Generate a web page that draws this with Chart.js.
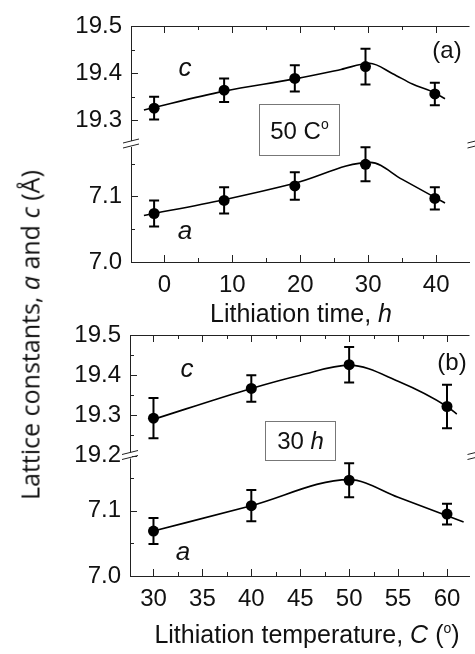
<!DOCTYPE html>
<html>
<head>
<meta charset="utf-8">
<script src="https://cdn.jsdelivr.net/npm/chart.js@4/dist/chart.umd.min.js"></script>
<style>
body { margin: 0; background: #fff; }
#wrap { position: relative; width: 475px; height: 654px; overflow: hidden; font-family: "Liberation Sans", Arial, sans-serif; color: #111; }
canvas { position: absolute; left: 0; }
.lbl { position: absolute; white-space: nowrap; transform: translate(-50%, -50%); line-height: 1; }
.box { position: absolute; border: 1px solid #777; display: flex; align-items: center; justify-content: center; font-size: 24px; box-sizing: border-box; }
.ytitle { position: absolute; left: 30px; top: 335px; transform: translate(-50%, -50%) rotate(-90deg); white-space: nowrap; font-family: "Open Sans", sans-serif; font-size: 25px; line-height: 1; }
sup { font-size: 14px; vertical-align: 10px; }
</style>
</head>
<body>
<div id="wrap">
  <canvas id="chartA" width="475" height="310" style="top:0"></canvas>
  <canvas id="chartB" width="475" height="344" style="top:310px"></canvas>

  <div class="ytitle">Lattice constants, <i>a</i> and <i>c</i> (Å)</div>

  <div class="lbl" style="left:185px;top:67px;font-size:26px"><i>c</i></div>
  <div class="lbl" style="left:185px;top:230px;font-size:26px"><i>a</i></div>
  <div class="lbl" style="left:447px;top:50px;font-size:24px">(a)</div>
  <div class="box" style="left:259px;top:104px;width:81px;height:52px"><span>50 C<sup>o</sup></span></div>
  <div class="lbl" style="left:301px;top:313px;font-size:25px">Lithiation time, <i>h</i></div>

  <div class="lbl" style="left:187px;top:368px;font-size:26px"><i>c</i></div>
  <div class="lbl" style="left:183px;top:551px;font-size:26px"><i>a</i></div>
  <div class="lbl" style="left:452px;top:362px;font-size:24px">(b)</div>
  <div class="box" style="left:265px;top:421px;width:71px;height:40px"><span>30&nbsp;<i>h</i></span></div>
  <div class="lbl" style="left:307px;top:634px;font-size:25px">Lithiation temperature, <i>C</i> (<sup>o</sup>)</div>
</div>

<script>
// (a) lithiation time series
var timeA = [-1.5, 8.8, 19.2, 29.6, 39.8];
var cTime = [19.326, 19.364, 19.389, 19.414, 19.356];
var cTimeErr = [0.024, 0.025, 0.028, 0.038, 0.024];
var aTime = [7.074, 7.094, 7.116, 7.149, 7.097];
var aTimeErr = [0.020, 0.020, 0.021, 0.026, 0.017];
var cTimeFitX = [-3, 8.8, 19.2, 26, 30.2, 33.6, 36.5, 39.4, 41.3];
var cTimeFitY = [19.322, 19.362, 19.388, 19.408, 19.421, 19.399, 19.377, 19.361, 19.346];
var aTimeFitX = [-3, 8.8, 19.2, 30.3, 35, 41.3];
var aTimeFitY = [7.071, 7.095, 7.12, 7.152, 7.126, 7.09];

// (b) lithiation temperature series
var tempB = [30, 40, 50, 60];
var cTemp = [19.293, 19.367, 19.426, 19.322];
var cTempErr = [0.050, 0.033, 0.044, 0.054];
var aTemp = [7.069, 7.108, 7.147, 7.095];
var aTempErr = [0.020, 0.024, 0.026, 0.016];
var cTempFitX = [30, 40, 45, 50, 55, 60, 61];
var cTempFitY = [19.29, 19.367, 19.4, 19.425, 19.385, 19.322, 19.303];
var aTempFitX = [30, 40, 50, 55, 61.7];
var aTempFitY = [7.069, 7.108, 7.148, 7.121, 7.083];

// ticks
var timeTicks = [0, 10, 20, 30, 40];
var timeMinor = [5, 15, 25, 35];
var tempTicks = [30, 35, 40, 45, 50, 55, 60];
var tempMinor = [32.5, 37.5, 42.5, 47.5, 52.5, 57.5];
var cTicksA = [19.3, 19.4, 19.5];
var cTicksB = [19.2, 19.3, 19.4, 19.5];
var cMinorA = [19.35, 19.45];
var cMinorB = [19.25, 19.35, 19.45];
var aTicks = [7.0, 7.1];
var aMinor = [7.05, 7.15];

function pts(xs, ys) {
    return xs.map(function (x, i) { return { x: x, y: ys[i] }; });
}

var axisPlugin = {
    id: 'axisDeco',
    afterDatasetsDraw: function (chart, args, opts) {
        var ctx = chart.ctx;
        var area = chart.chartArea;
        var xs = chart.scales.x, yc = chart.scales.yc, ya = chart.scales.ya;
        ctx.save();
        ctx.strokeStyle = '#222';
        ctx.lineWidth = 1;
        // top frame line
        ctx.beginPath();
        ctx.moveTo(area.left, area.top + 0.5);
        ctx.lineTo(area.right, area.top + 0.5);
        ctx.stroke();
        // inward ticks on x
        function xTick(v, len) {
            var px = Math.round(xs.getPixelForValue(v)) + 0.5;
            ctx.beginPath();
            ctx.moveTo(px, area.bottom);
            ctx.lineTo(px, area.bottom - len);
            ctx.moveTo(px, area.top);
            ctx.lineTo(px, area.top + len);
            ctx.stroke();
        }
        opts.xMajor.forEach(function (v) { xTick(v, 7); });
        opts.xMinor.forEach(function (v) { xTick(v, 4); });
        // inward ticks on y
        function yTick(scale, v, len) {
            var py = Math.round(scale.getPixelForValue(v)) + 0.5;
            ctx.beginPath();
            ctx.moveTo(area.left, py);
            ctx.lineTo(area.left + len, py);
            ctx.stroke();
        }
        opts.cMajor.forEach(function (v) { yTick(yc, v, 7); });
        opts.cMinor.forEach(function (v) { yTick(yc, v, 4); });
        aTicks.forEach(function (v) { yTick(ya, v, 7); });
        aMinor.forEach(function (v) { yTick(ya, v, 4); });

        // axis break marks (the right one is mostly cut off by the canvas edge)
        var by = yc.bottom;
        [area.left, area.right + 6].forEach(function (bx) {
            ctx.fillStyle = '#fff';
            ctx.fillRect(bx - 1, by - 3, 3, 6);
            ctx.beginPath();
            ctx.moveTo(bx - 8, by - 1);
            ctx.lineTo(bx + 8, by - 5);
            ctx.moveTo(bx - 8, by + 4);
            ctx.lineTo(bx + 8, by);
            ctx.stroke();
        });

        // error bars
        ctx.lineWidth = 2;
        ctx.strokeStyle = '#000';
        opts.bars.forEach(function (b) {
            var scale = chart.scales[b.axis];
            b.x.forEach(function (xv, i) {
                var px = xs.getPixelForValue(xv);
                var t = scale.getPixelForValue(b.y[i] + b.err[i]);
                var d = scale.getPixelForValue(b.y[i] - b.err[i]);
                ctx.beginPath();
                ctx.moveTo(px, t);
                ctx.lineTo(px, d);
                ctx.moveTo(px - 5, t);
                ctx.lineTo(px + 5, t);
                ctx.moveTo(px - 5, d);
                ctx.lineTo(px + 5, d);
                ctx.stroke();
            });
        });
        ctx.restore();
    }
};

function makePanel(id, p) {
    var tickFont = { family: 'Liberation Sans', size: 24 };
    var fixTicks = function (list) {
        return function (scale) {
            scale.ticks = list.map(function (v) { return { value: v }; });
        };
    };
    var fmt = function (v) { return v.toFixed(1); };
    return new Chart(id, {
        type: 'scatter',
        data: {
            datasets: [{
                data: pts(p.x, p.c), yAxisID: 'yc',
                pointRadius: 5.5, pointHoverRadius: 5.5, backgroundColor: '#000', borderWidth: 0
            }, {
                data: pts(p.x, p.a), yAxisID: 'ya',
                pointRadius: 5.5, pointHoverRadius: 5.5, backgroundColor: '#000', borderWidth: 0
            }, {
                data: pts(p.cFitX, p.cFitY), yAxisID: 'yc', showLine: true,
                pointRadius: 0, borderColor: '#000', borderWidth: 1.6, cubicInterpolationMode: 'monotone'
            }, {
                data: pts(p.aFitX, p.aFitY), yAxisID: 'ya', showLine: true,
                pointRadius: 0, borderColor: '#000', borderWidth: 1.6, cubicInterpolationMode: 'monotone'
            }]
        },
        options: {
            responsive: false,
            animation: false,
            events: [],
            layout: { padding: { top: p.top, left: 0, right: 0, bottom: 0 } },
            plugins: {
                legend: { display: false },
                tooltip: { enabled: false },
                axisDeco: { xMajor: p.xTicks, xMinor: p.xMinor, cMajor: p.cTicks, cMinor: p.cMinor, bars: [
                    { axis: 'yc', x: p.x, y: p.c, err: p.cErr },
                    { axis: 'ya', x: p.x, y: p.a, err: p.aErr }
                ] }
            },
            scales: {
                x: {
                    type: 'linear', position: 'bottom', min: p.xMin, max: p.xMax,
                    grid: { display: false, drawTicks: false },
                    border: { color: '#222', width: 1 },
                    ticks: { font: tickFont, color: '#111', padding: 9, autoSkip: false, maxRotation: 0 },
                    afterBuildTicks: fixTicks(p.xTicks),
                    afterFit: function (s) { s.height = p.xHeight; }
                },
                ya: {
                    type: 'linear', position: 'left', stack: 'lat', stackWeight: 1,
                    min: 7.0, max: p.aMax,
                    grid: { display: false, drawTicks: false },
                    border: { color: '#222', width: 1 },
                    ticks: { font: tickFont, color: '#111', padding: 9, autoSkip: false, callback: fmt },
                    afterBuildTicks: fixTicks(aTicks),
                    afterFit: function (s) { s.width = p.left; }
                },
                yc: {
                    type: 'linear', position: 'left', stack: 'lat', stackWeight: 1,
                    min: p.cMin, max: 19.5,
                    grid: { display: false, drawTicks: false },
                    border: { color: '#222', width: 1 },
                    ticks: { font: tickFont, color: '#111', padding: 9, autoSkip: false, callback: fmt },
                    afterBuildTicks: fixTicks(p.cTicks),
                    afterFit: function (s) { s.width = p.left; }
                }
            }
        },
        plugins: [axisPlugin]
    });
}

makePanel('chartA', {
    x: timeA, c: cTime, cErr: cTimeErr, a: aTime, aErr: aTimeErr,
    cFitX: cTimeFitX, cFitY: cTimeFitY, aFitX: aTimeFitX, aFitY: aTimeFitY,
    xTicks: timeTicks, xMinor: timeMinor, cTicks: cTicksA, cMinor: cMinorA,
    xMin: -4.9, xMax: 44.9, cMin: 19.25, aMax: 7.18,
    top: 26, left: 131, xHeight: 48
});

makePanel('chartB', {
    x: tempB, c: cTemp, cErr: cTempErr, a: aTemp, aErr: aTempErr,
    cFitX: cTempFitX, cFitY: cTempFitY, aFitX: aTempFitX, aFitY: aTempFitY,
    xTicks: tempTicks, xMinor: tempMinor, cTicks: cTicksB, cMinor: cMinorB,
    xMin: 27.6, xMax: 62.3, cMin: 19.2, aMax: 7.185,
    top: 25, left: 130, xHeight: 78
});
</script>
</body>
</html>
